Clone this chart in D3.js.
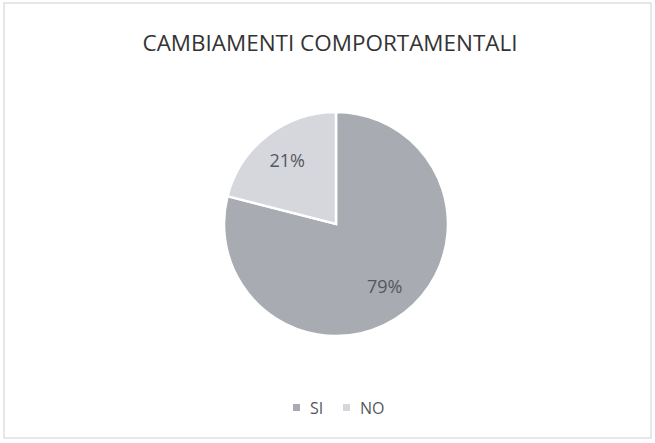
<!DOCTYPE html>
<html>
<head>
<meta charset="utf-8">
<script src="https://cdn.jsdelivr.net/npm/d3@7"></script>
<style>
  body { margin: 0; background: #fff; }
  text { font-family: "Open Sans", "DejaVu Sans", sans-serif; }
</style>
</head>
<body>
<div id="chart"></div>
<script>
// data
var categories = ["SI", "NO"];
var values = [79, 21];
var colors = ["#a8abb2", "#d5d7dd"];

var width = 655, height = 443,
    cx = 336, cy = 224, radius = 112;

var svg = d3.select("#chart").append("svg")
    .attr("width", width)
    .attr("height", height);

svg.append("rect")
    .attr("x", 4).attr("y", 3)
    .attr("width", width - 8).attr("height", height - 8)
    .attr("fill", "#fff")
    .attr("stroke", "#d0d0d0");

// title
svg.append("text")
    .attr("x", 330).attr("y", 51)
    .attr("text-anchor", "middle")
    .attr("font-size", 22)
    .attr("fill", "#333")
    .attr("textLength", 375)
    .attr("lengthAdjust", "spacingAndGlyphs")
    .text("CAMBIAMENTI COMPORTAMENTALI");

var data = categories.map(function(c, i) { return {name: c, value: values[i], color: colors[i]}; });

var pie = d3.pie().sort(null).value(function(d) { return d.value; });
var arc = d3.arc().innerRadius(0).outerRadius(radius);
var labelArc = d3.arc().innerRadius(radius * 0.71).outerRadius(radius * 0.71);

var g = svg.append("g").attr("transform", "translate(" + cx + "," + cy + ")");

var slices = g.selectAll("g").data(pie(data)).enter().append("g");

slices.append("path")
    .attr("d", arc)
    .attr("fill", function(d) { return d.data.color; })
    .attr("stroke", "#fff")
    .attr("stroke-width", 2.5);

slices.append("text")
    .attr("transform", function(d) { return "translate(" + labelArc.centroid(d) + ")"; })
    .attr("text-anchor", "middle")
    .attr("dy", "0.35em")
    .attr("font-size", 18)
    .attr("fill", "#55585e")
    .text(function(d) { return d.data.value + "%"; });

// legend
var legend = svg.append("g").attr("transform", "translate(293,408)");
var legX = [0, 50];
var item = legend.selectAll("g").data(data).enter().append("g")
    .attr("transform", function(d, i) { return "translate(" + legX[i] + ",0)"; });
item.append("rect")
    .attr("x", 0).attr("y", -4)
    .attr("width", 7).attr("height", 7)
    .attr("fill", function(d) { return d.color; });
item.append("text")
    .attr("x", 17).attr("y", 0)
    .attr("dy", "0.35em")
    .attr("font-size", 16)
    .attr("fill", "#55585e")
    .text(function(d) { return d.name; });
</script>
</body>
</html>
